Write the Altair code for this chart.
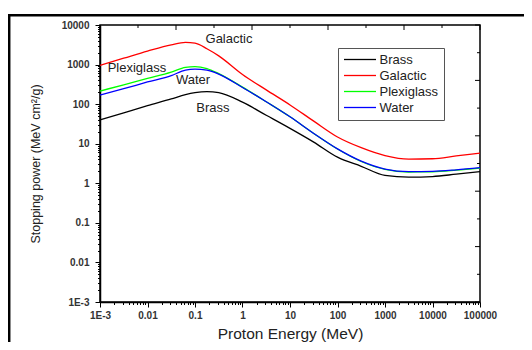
import altair as alt
import pandas as pd

# ---- data ----
energy = [0.001, 0.00316, 0.01, 0.0316, 0.063, 0.1, 0.178, 0.316, 1, 3.16, 10,
          31.6, 100, 316, 1000, 3160, 10000, 31600, 100000]
brass = [39.8, 60.3, 91.2, 135, 174, 195, 207, 195, 112, 52.5, 24.5, 11.0,
         4.57, 2.69, 1.58, 1.43, 1.48, 1.70, 1.97]
galactic = [955, 1445, 2188, 3162, 3631, 3467, 2512, 1660, 562, 229, 95.5,
            37.2, 14.8, 7.94, 5.01, 4.07, 4.17, 4.90, 5.75]
plexiglass = [214, 309, 447, 646, 851, 891, 794, 589, 269, 115, 47.9, 18.2,
              7.33, 3.55, 2.24, 1.93, 1.95, 2.14, 2.43]
water = [170, 245, 363, 525, 724, 767, 724, 575, 263, 115, 47.9, 18.2, 7.41,
         3.63, 2.29, 1.97, 2.0, 2.19, 2.49]

materials = ["Brass", "Galactic", "Plexiglass", "Water"]
colors = ["#000000", "#ff0000", "#00ff00", "#0000ff"]

label_text = ["Galactic", "Plexiglass", "Water", "Brass"]
label_x = [0.52, 0.006, 0.091, 0.239]
label_y = [4430, 820, 408, 80]

x_major = [0.001, 0.01, 0.1, 1, 10, 100, 1000, 10000, 100000]
y_major = [0.001, 0.01, 0.1, 1, 10, 100, 1000, 10000]

series = {"Brass": brass, "Galactic": galactic, "Plexiglass": plexiglass, "Water": water}
rows = []
for m in materials:
    for e, v in zip(energy, series[m]):
        rows.append({"energy": e, "value": v, "material": m})
df = pd.DataFrame(rows)
labels_df = pd.DataFrame({"text": label_text, "ex": label_x, "ey": label_y})

def with_minors(majors):
    vals = []
    for i, d in enumerate(majors):
        vals.append(d)
        if i < len(majors) - 1:
            for k in range(2, 10):
                vals.append(float(f"{k * d:.10g}"))
    return vals

FONT = "Liberation Sans"
is_major = "abs(log(datum.value)/LN10 - round(log(datum.value)/LN10)) < 0.001"
label_expr = ("datum.value < 0.0015 ? '1E-3' : ((" + is_major +
              ") ? datum.value + '' : '')")
tick_size = {"condition": {"test": is_major, "value": 5}, "value": 2.5}

common_axis = dict(
    grid=False, labelFont=FONT, labelFontSize=10, labelFontWeight="bold",
    labelColor="#333333", tickColor="#000000", domainColor="#000000",
    domainWidth=1.5, tickWidth=1, tickSize=tick_size, labelExpr=label_expr,
    labelFlush=False, labelOverlap=False, titleFont=FONT,
    titleFontWeight="normal", titleColor="#222222",
)

x_enc = alt.X("energy:Q",
              scale=alt.Scale(type="log", domain=[0.001, 100000], nice=False),
              axis=alt.Axis(orient="bottom", values=with_minors(x_major),
                            title="Proton Energy (MeV)", titleFontSize=15.5,
                            labelPadding=3, titlePadding=6, **common_axis))
y_enc = alt.Y("value:Q",
              scale=alt.Scale(type="log", domain=[0.001, 10000], nice=False),
              axis=alt.Axis(orient="left", values=with_minors(y_major),
                            title="Stopping power (MeV cm²/g)", titleFontSize=12.5,
                            labelPadding=6, titlePadding=19, **common_axis))

lines = alt.Chart(df).mark_line(strokeWidth=1.3, interpolate="monotone").encode(
    x=x_enc, y=y_enc,
    color=alt.Color("material:N",
                    scale=alt.Scale(domain=materials, range=colors),
                    legend=alt.Legend(orient="none", legendX=238, legendY=23,
                                      title=None, symbolType="M-3.2,0H3.2",
                                      symbolSize=100, symbolStrokeWidth=1.3,
                                      labelFont=FONT, labelFontSize=13,
                                      labelColor="#222222", strokeColor="#555555",
                                      fillColor="#ffffff", padding=5,
                                      rowPadding=2, labelOffset=13,
                                      symbolOffset=10.5,
                                      labelExpr="datum.label + '   '")),
)

texts = alt.Chart(labels_df).mark_text(font=FONT, fontSize=13, color="#222222",
                                       align="center", baseline="middle").encode(
    x=alt.X("ex:Q"), y=alt.Y("ey:Q"), text="text:N")

one = pd.DataFrame({"a": [0]})
frame_left = alt.Chart(one).mark_rule(color="#000000", strokeWidth=2.5).encode(
    x=alt.value(-90.8), y=alt.value(-9.8), y2=alt.value(330))
frame_top = alt.Chart(one).mark_rule(color="#000000", strokeWidth=2.5).encode(
    x=alt.value(-92), x2=alt.value(440), y=alt.value(-9.8))

main = alt.layer(lines, texts, frame_left, frame_top)

ticks = pd.DataFrame({"i": list(range(11))})
tscale = alt.Scale(domain=[0, 10], nice=False)
top_long = alt.Chart(ticks).mark_rule(color="#000000").encode(
    x=alt.X("i:Q", scale=tscale, axis=None), y=alt.value(0), y2=alt.value(5)
).transform_filter("datum.i % 2 == 0")
top_short = alt.Chart(ticks).mark_rule(color="#000000").encode(
    x=alt.X("i:Q", scale=tscale, axis=None), y=alt.value(0), y2=alt.value(3)
).transform_filter("datum.i % 2 == 1")
right_long = alt.Chart(ticks).mark_rule(color="#000000").encode(
    y=alt.Y("i:Q", scale=tscale, axis=None), x=alt.value(380), x2=alt.value(375)
).transform_filter("datum.i % 2 == 0")
right_short = alt.Chart(ticks).mark_rule(color="#000000").encode(
    y=alt.Y("i:Q", scale=tscale, axis=None), x=alt.value(380), x2=alt.value(377)
).transform_filter("datum.i % 2 == 1")

chart = alt.layer(main, top_long, top_short, right_long, right_short).resolve_scale(
    x="independent", y="independent"
).properties(
    width=380, height=277,
    autosize=alt.AutoSizeParams(type="none"),
    padding={"left": 92, "top": 17, "right": 44, "bottom": 40},
    background="#ffffff",
).configure_view(stroke="#000000", strokeWidth=1.5)

chart.save("out.html", embed_options={"renderer": "svg", "actions": False})
